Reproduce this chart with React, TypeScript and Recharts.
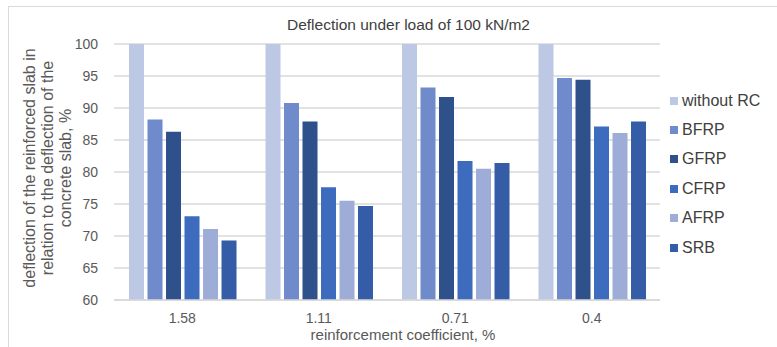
import React from "react";
import {
  BarChart,
  Bar,
  XAxis,
  YAxis,
  CartesianGrid,
  Legend,
} from "recharts";

const categories = ["1.58", "1.11", "0.71", "0.4"];
const withoutRC = [100, 100, 100, 100];
const bfrp = [88.2, 90.8, 93.2, 94.7];
const gfrp = [86.3, 87.9, 91.7, 94.4];
const cfrp = [73.1, 77.6, 81.7, 87.1];
const afrp = [71.1, 75.5, 80.5, 86.1];
const srb = [69.3, 74.7, 81.4, 87.9];
const yTicks = [60, 65, 70, 75, 80, 85, 90, 95, 100];

const series = [
  { key: "without RC", values: withoutRC, color: "#bdc8e5" },
  { key: "BFRP", values: bfrp, color: "#6f8bcb" },
  { key: "GFRP", values: gfrp, color: "#2e518c" },
  { key: "CFRP", values: cfrp, color: "#3d6bbd" },
  { key: "AFRP", values: afrp, color: "#9eadd7" },
  { key: "SRB", values: srb, color: "#355da7" },
];

const data = categories.map((c, i) => {
  const row: Record<string, string | number> = { name: c };
  series.forEach((s) => (row[s.key] = s.values[i]));
  return row;
});

const font = "'Liberation Sans', Arial, sans-serif";

const YLabel = (props: any) => {
  const vb = props.viewBox;
  const cy = vb.y + vb.height / 2 - 4;
  const lines = [
    "deflection of the reinforced slab in",
    "relation to the deflection of the",
    "concrete slab, %",
  ];
  return (
    <g>
      {lines.map((l, i) => {
        const x = 29 + i * 18.3;
        return (
          <text
            key={i}
            x={x}
            y={cy}
            transform={`rotate(-90 ${x} ${cy})`}
            textAnchor="middle"
            dominantBaseline="central"
            fill="#595959"
            fontSize={16}
            fontFamily={font}
          >
            {l}
          </text>
        );
      })}
    </g>
  );
};

const LegendContent = () => (
  <div style={{ fontFamily: font, fontSize: 16, color: "#404040" }}>
    {series.map((s) => (
      <div
        key={s.key}
        style={{ display: "flex", alignItems: "center", height: 29.4 }}
      >
        <span
          style={{
            width: 8,
            height: 8,
            background: s.color,
            marginRight: 4,
            display: "inline-block",
          }}
        />
        {s.key}
      </div>
    ))}
  </div>
);

export default function App() {
  return (
    <div
      style={{
        position: "absolute",
        left: 0,
        top: 0,
        width: 777,
        height: 347,
        background: "#fff",
      }}
    >
      <div
        style={{
          position: "absolute",
          left: 8,
          top: 6,
          width: 769,
          height: 341,
          borderTop: "1px solid #d9d9d9",
          borderLeft: "1px solid #d9d9d9",
        }}
      />
      <div
        style={{
          position: "absolute",
          left: 0,
          top: 16,
          width: 777,
          textAlign: "center",
          fontFamily: font,
          fontSize: 15.5,
          color: "#404040",
          paddingLeft: 40,
          boxSizing: "border-box",
        }}
      >
        Deflection under load of 100 kN/m2
      </div>
      <BarChart
        width={777}
        height={347}
        data={data}
        margin={{ top: 44, right: 7, left: 74, bottom: 15 }}
        barCategoryGap="11%"
        barGap={3.5}
      >
        <CartesianGrid vertical={false} stroke="#d9d9d9" strokeWidth={1.3} />
        <XAxis
          dataKey="name"
          axisLine={{ stroke: "#d9d9d9", strokeWidth: 1.3 }}
          tickLine={false}
          tick={{ fill: "#595959", fontSize: 14, fontFamily: font }}
          tickMargin={7}
          height={32}
          label={{
            value: "reinforcement coefficient, %",
            position: "insideBottom",
            offset: -8,
            dx: 16,
            fill: "#595959",
            fontSize: 15,
            fontFamily: font,
          }}
        />
        <YAxis
          width={40}
          domain={[60, 100]}
          ticks={yTicks}
          allowDataOverflow
          axisLine={false}
          tickLine={false}
          tick={{ fill: "#595959", fontSize: 14, fontFamily: font }}
          tickMargin={10}
          label={<YLabel />}
        />
        <Legend
          layout="vertical"
          align="right"
          verticalAlign="top"
          content={<LegendContent />}
          wrapperStyle={{ left: 670, top: 86, width: 110 }}
        />
        {series.map((s) => (
          <Bar
            key={s.key}
            dataKey={s.key}
            fill={s.color}
            isAnimationActive={false}
          />
        ))}
      </BarChart>
    </div>
  );
}
